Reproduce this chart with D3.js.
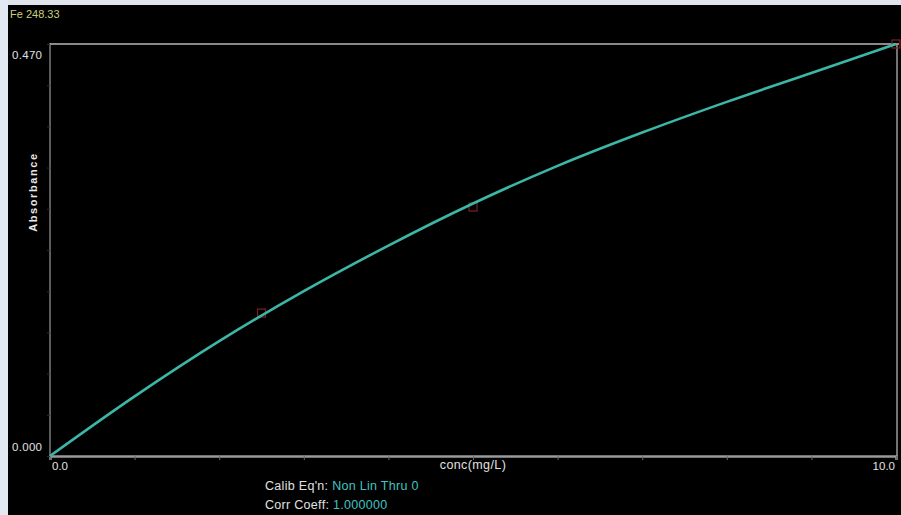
<!DOCTYPE html>
<html><head><meta charset="utf-8">
<script src="https://cdn.jsdelivr.net/npm/d3@7/dist/d3.min.js"></script>
<style>
html,body{margin:0;padding:0;background:#000;}
svg{display:block;}
text{font-family:"Liberation Sans","Arial",sans-serif;}
</style></head>
<body>
<script>
// Data
const element = "Fe 248.33";
const curveConc = [0, 1, 2, 3, 4, 5, 6, 7, 8, 9, 10];
const curveAbs  = [0.000, 0.068, 0.131, 0.188, 0.240, 0.288, 0.331, 0.369, 0.404, 0.437, 0.470];
const stdConc = [2.5, 5.0, 10.0];
const stdAbs  = [0.163, 0.284, 0.470];
const xTicks = [0,1,2,3,4,5,6,7,8,9,10];
const xTickLabels = ["0.0", "10.0"];
const yTickLabels = ["0.000", "0.470"];
const xTitle = "conc(mg/L)";
const yTitle = "Absorbance";
const calibLabel = "Calib Eq'n:", calibValue = "Non Lin Thru 0";
const corrLabel = "Corr Coeff:", corrValue = "1.000000";

const W = 901, H = 515;
const L = 50, R = 896, T = 44, B = 456;
const svg = d3.select("body").append("svg").attr("width", W).attr("height", H);
svg.append("rect").attr("width", W).attr("height", H).attr("fill", "#000");
// light window edges
svg.append("rect").attr("x",0).attr("y",0).attr("width",W).attr("height",5).attr("fill","#dfe3ea");
svg.append("rect").attr("x",0).attr("y",0).attr("width",8).attr("height",H).attr("fill","#e3e9f3");

const x = d3.scaleLinear().domain([0, 10]).range([L, R]);
const y = d3.scaleLinear().domain([0, 0.470]).range([B, T]);

// frame
svg.append("line").attr("x1",L).attr("x2",R+3).attr("y1",T).attr("y2",T).attr("stroke","#8a8a8a").attr("stroke-width",2);
svg.append("line").attr("x1",R+1).attr("x2",R+1).attr("y1",T).attr("y2",B).attr("stroke","#9a9a9a").attr("stroke-width",1.5);
svg.append("line").attr("x1",L).attr("x2",L).attr("y1",T-1).attr("y2",B).attr("stroke","#9a9a9a").attr("stroke-width",1.2);

// x axis
const xAxis = d3.axisBottom(x).tickValues(xTicks).tickSize(4).tickFormat("");
const gx = svg.append("g").attr("transform", `translate(0,${B})`).call(xAxis);
gx.select(".domain").attr("stroke","#9a9a9a").attr("stroke-width",2.5);
gx.selectAll(".tick line").attr("stroke","#6a6a6a").attr("stroke-width",1);

// y axis faint ticks
const yAxis = d3.axisLeft(y).tickValues(d3.range(0,0.471,0.047)).tickSize(3).tickFormat("");
const gy = svg.append("g").attr("transform", `translate(${L},0)`).call(yAxis);
gy.select(".domain").remove();
gy.selectAll(".tick line").attr("stroke","#2e2e2e");

// labels
svg.append("text").attr("x",10).attr("y",18).attr("fill","#c9d07a").attr("font-size",11).text(element);
svg.append("text").attr("x",12).attr("y",y(0.470)+15).attr("fill","#e0e0e0").attr("font-size",11.5).attr("letter-spacing",0.3).text(yTickLabels[1]);
svg.append("text").attr("x",12).attr("y",y(0)-5).attr("fill","#e0e0e0").attr("font-size",11.5).attr("letter-spacing",0.3).text(yTickLabels[0]);
svg.append("text").attr("x",x(0)+2).attr("y",B+14).attr("fill","#e0e0e0").attr("font-size",11.5).text(xTickLabels[0]);
svg.append("text").attr("x",R-1).attr("y",B+14).attr("fill","#e0e0e0").attr("font-size",11.5).attr("text-anchor","end").text(xTickLabels[1]);
svg.append("text").attr("x",473).attr("y",B+13).attr("fill","#e0e0e0").attr("font-size",12.5).attr("letter-spacing",0.4).attr("text-anchor","middle").text(xTitle);
svg.append("text").attr("transform","translate(37,192) rotate(-90)").attr("fill","#e8e8e8").attr("font-size",11).attr("font-weight","bold").attr("letter-spacing",1.6).attr("text-anchor","middle").text(yTitle);

const t1 = svg.append("text").attr("x",265).attr("y",490).attr("font-size",12.5).attr("letter-spacing",0.3);
t1.append("tspan").attr("fill","#e0e0e0").text(calibLabel + " ");
t1.append("tspan").attr("fill","#3fc4c0").text(calibValue);
const t2 = svg.append("text").attr("x",265).attr("y",509).attr("font-size",12.5).attr("letter-spacing",0.3);
t2.append("tspan").attr("fill","#e0e0e0").text(corrLabel + " ");
t2.append("tspan").attr("fill","#3fc4c0").text(corrValue);

// standards (red squares)
svg.append("g").selectAll("rect").data(stdConc).join("rect")
  .attr("x",(d)=>x(d)-4).attr("y",(d,i)=>y(stdAbs[i])-4)
  .attr("width",8).attr("height",8)
  .attr("fill","none").attr("stroke","#7a2020").attr("stroke-width",1.2);

// curve
const line = d3.line().x(d=>x(d[0])).y(d=>y(d[1])).curve(d3.curveMonotoneX);
svg.append("path").datum(curveConc.map((c,i)=>[c,curveAbs[i]]))
  .attr("d", line).attr("fill","none").attr("stroke","#3cb6a6").attr("stroke-width",2.6);
</script>
</body></html>
